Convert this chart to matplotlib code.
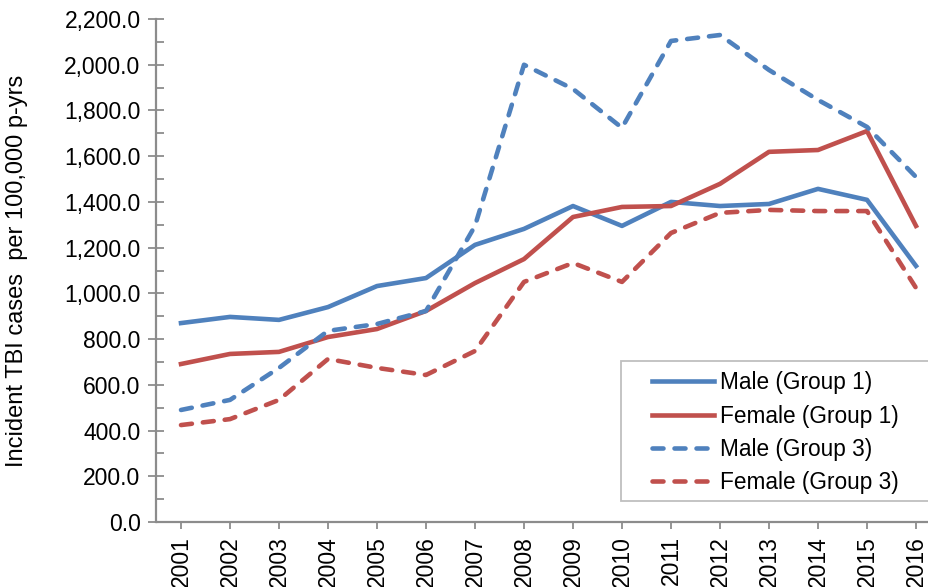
import matplotlib
matplotlib.use("Agg")
import matplotlib.pyplot as plt
from matplotlib.patches import Rectangle
from matplotlib.ticker import MultipleLocator, FuncFormatter

plt.rcParams['font.family'] = ['Liberation Sans', 'DejaVu Sans']

years = list(range(2001, 2017))
male_g1 = [870, 897, 884, 940, 1032, 1067, 1212, 1282, 1382, 1295, 1400, 1382, 1391, 1457, 1409, 1120]
female_g1 = [691, 735, 744, 809, 844, 923, 1045, 1150, 1334, 1378, 1382, 1479, 1619, 1627, 1710, 1295]
male_g3 = [490, 534, 674, 836, 866, 923, 1295, 2000, 1894, 1724, 2104, 2130, 1977, 1846, 1728, 1509]
female_g3 = [424, 450, 534, 713, 674, 643, 748, 1050, 1133, 1050, 1264, 1352, 1365, 1360, 1360, 1024]
labels = ["Male (Group 1)", "Female (Group 1)", "Male (Group 3)", "Female (Group 3)"]

blue = "#4F81BD"
red = "#C0504D"
axis_gray = "#8C8C8C"

W, H = 929, 587
fig = plt.figure(figsize=(W / 100, H / 100), dpi=100)
left_px, right_px, top_px, bottom_px = 156.5, 940.5, 19, 522
ax = fig.add_axes([left_px / W, (H - bottom_px) / H, (right_px - left_px) / W, (bottom_px - top_px) / H])

lw = 3.3
dash = (0, (2.4, 2.4))
l1, = ax.plot(years, male_g1, color=blue, lw=lw, solid_joinstyle='round', label=labels[0])
l2, = ax.plot(years, female_g1, color=red, lw=lw, solid_joinstyle='round', label=labels[1])
l3, = ax.plot(years, male_g3, color=blue, lw=lw, linestyle=dash, dash_capstyle='round', label=labels[2])
l4, = ax.plot(years, female_g3, color=red, lw=lw, linestyle=dash, dash_capstyle='round', label=labels[3])

ax.set_xlim(2000.5, 2016.5)
ax.set_ylim(0, 2200)
ax.set_xticks(years)
ax.set_xticklabels([str(y) for y in years], rotation=90, fontsize=16.5)
ax.yaxis.set_major_locator(MultipleLocator(200))
ax.yaxis.set_minor_locator(MultipleLocator(100))
ax.yaxis.set_major_formatter(FuncFormatter(lambda v, p: f"{v:,.1f}"))
ax.tick_params(axis='y', which='major', direction='inout', length=11, width=1.3, color=axis_gray, labelsize=16.5, pad=6)
ax.tick_params(axis='y', which='minor', direction='in', length=6, width=1.3, color=axis_gray)
ax.tick_params(axis='x', which='major', direction='out', length=5, width=1.3, color=axis_gray, pad=5)

for s in ['top', 'right']:
    ax.spines[s].set_visible(False)
for s in ['left', 'bottom']:
    ax.spines[s].set_color(axis_gray)
    ax.spines[s].set_linewidth(1.6)

fig.text(17 / W, 1 - 271 / H, "Incident TBI cases  per 100,000 p-yrs", rotation=90,
         ha='center', va='center', fontsize=17)

# legend frame
fig.patches.append(Rectangle((621 / W, (H - 501) / H), (940 - 621) / W, (501 - 361) / H,
                             transform=fig.transFigure, facecolor='white', edgecolor='#BFBFBF',
                             lw=1.3, zorder=5))
leg = fig.legend(handles=[l1, l2, l3, l4], loc='upper left',
                 bbox_to_anchor=(634 / W, 1 - 353 / H), frameon=False, fontsize=16.3,
                 handlelength=2.75, handletextpad=0.25, labelspacing=0.46, borderpad=0.3)
leg.set_zorder(6)

fig.savefig("out.png", dpi=100)
